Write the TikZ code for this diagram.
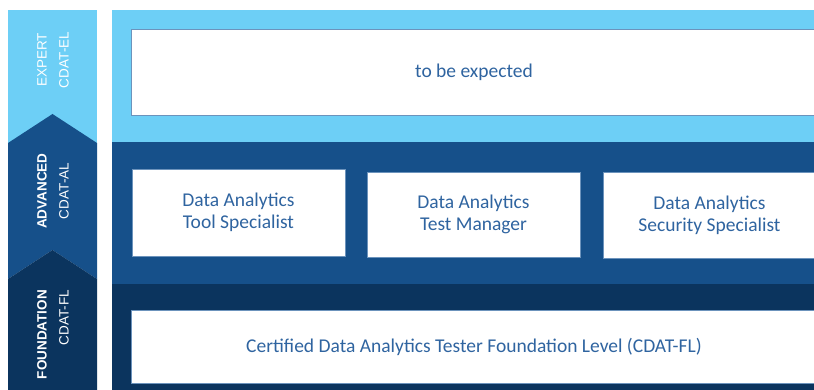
\documentclass[tikz,border=0pt]{standalone}
\usepackage{fontspec}
\setmainfont{Carlito}
\newfontfamily\tierfont{Liberation Sans}

\definecolor{lightband}{HTML}{6DCFF6}
\definecolor{midband}{HTML}{16508A}
\definecolor{darkband}{HTML}{0B345E}
\definecolor{boxtext}{HTML}{2F64A0}
\definecolor{boxline}{HTML}{6C93BC}

\begin{document}
\begin{tikzpicture}[x=1pt,y=-1pt]
      \tikzstyle{box}=[draw=boxline,line width=0.8pt,fill=white,text=boxtext,align=center,inner sep=0pt,font=\fontsize{19.5}{22}\selectfont]
      \tikzstyle{tier}=[rotate=90,text=white,align=center,inner sep=0pt,font=\tierfont\fontsize{13.5}{22}\selectfont]
      \clip (0,0) rectangle (814,390);
      \fill[white] (0,0) rectangle (814,390);
      % left column with chevrons
      \fill[lightband] (8,10) rectangle (97,150);
      \fill[midband] (8,143) -- (52.5,114) -- (97,143) -- (97,279) -- (52.5,250) -- (8,279) -- cycle;
      \fill[darkband] (8,279) -- (52.5,250) -- (97,279) -- (97,390) -- (8,390) -- cycle;
      \node[tier] (expert) at (53,60) {EXPERT\\CDAT-EL};
      \node[tier] (advanced) at (53,191) {\textbf{ADVANCED}\\CDAT-AL};
      \node[tier,align=right,anchor=east] (foundation) at (53,290) {\textbf{FOUNDATION}\\CDAT-FL};
      % bands
      \fill[lightband] (112,10) rectangle (814,142);
      \fill[midband] (112,142) rectangle (814,284);
      \fill[darkband] (112,284) rectangle (814,390);
      \node[box,minimum width=686pt,minimum height=86pt] (el) at (474,72) {to be expected};
      \node[box,minimum width=213pt,minimum height=87pt] (tool) at (238.5,212.5) {Data Analytics\\Tool Specialist};
      \node[box,minimum width=213pt,minimum height=85pt] (tm) at (473.5,214.5) {Data Analytics\\Test Manager};
      \node[box,minimum width=213pt,minimum height=86pt] (sec) at (709.5,215) {Data Analytics\\Security Specialist};
      \node[box,minimum width=686pt,minimum height=73pt] (fl) at (474,346.5) {Certified Data Analytics Tester Foundation Level (CDAT-FL)};
    \end{tikzpicture}
\end{document}
